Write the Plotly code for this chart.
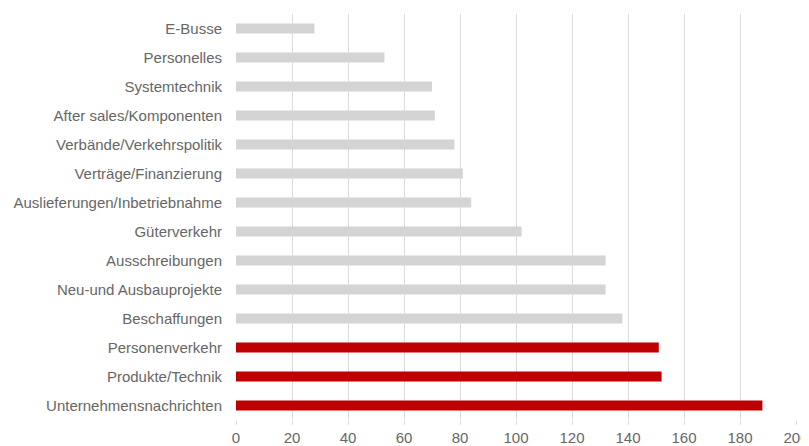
import plotly.graph_objects as go

# Data (top-to-bottom order as shown in the chart)
categories = [
    "E-Busse",
    "Personelles",
    "Systemtechnik",
    "After sales/Komponenten",
    "Verbände/Verkehrspolitik",
    "Verträge/Finanzierung",
    "Auslieferungen/Inbetriebnahme",
    "Güterverkehr",
    "Ausschreibungen",
    "Neu-und Ausbauprojekte",
    "Beschaffungen",
    "Personenverkehr",
    "Produkte/Technik",
    "Unternehmensnachrichten",
]
values = [28, 53, 70, 71, 78, 81, 84, 102, 132, 132, 138, 151, 152, 188]
x_ticks = [0, 20, 40, 60, 80, 100, 120, 140, 160, 180, 200]

# Styling
highlighted = {"Personenverkehr", "Produkte/Technik", "Unternehmensnachrichten"}
RED = "#c00000"
GREY = "#d4d4d4"
bar_colors = [RED if c in highlighted else GREY for c in categories]

FONT = dict(family="Liberation Sans, Arial, sans-serif", size=15, color="#666666")

fig = go.Figure(
    go.Bar(
        x=values,
        y=categories,
        orientation="h",
        marker=dict(color=bar_colors, line=dict(width=0)),
        hoverinfo="x+y",
    )
)

# page body adds an 8px offset, so the figure is sized to fit inside it
fig.update_layout(
    width=801,
    height=438,
    margin=dict(l=228, r=13, t=6, b=26, autoexpand=False),
    paper_bgcolor="white",
    plot_bgcolor="white",
    font=FONT,
    bargap=0.65,
    showlegend=False,
)

fig.update_xaxes(
    range=[0, 200],
    tickvals=x_ticks,
    ticktext=[str(t) for t in x_ticks],
    showgrid=True,
    gridcolor="#dcdcdc",
    gridwidth=1,
    zeroline=False,
    showline=False,
    ticks="outside",
    ticklen=4,
    tickcolor="#dcdcdc",
    tickfont=FONT,
    automargin=False,
)

fig.update_yaxes(
    autorange="reversed",
    showgrid=False,
    zeroline=False,
    showline=False,
    ticks="outside",
    ticklen=10,
    tickcolor="rgba(0,0,0,0)",
    tickfont=FONT,
    automargin=False,
)

fig.write_html("out.html")
